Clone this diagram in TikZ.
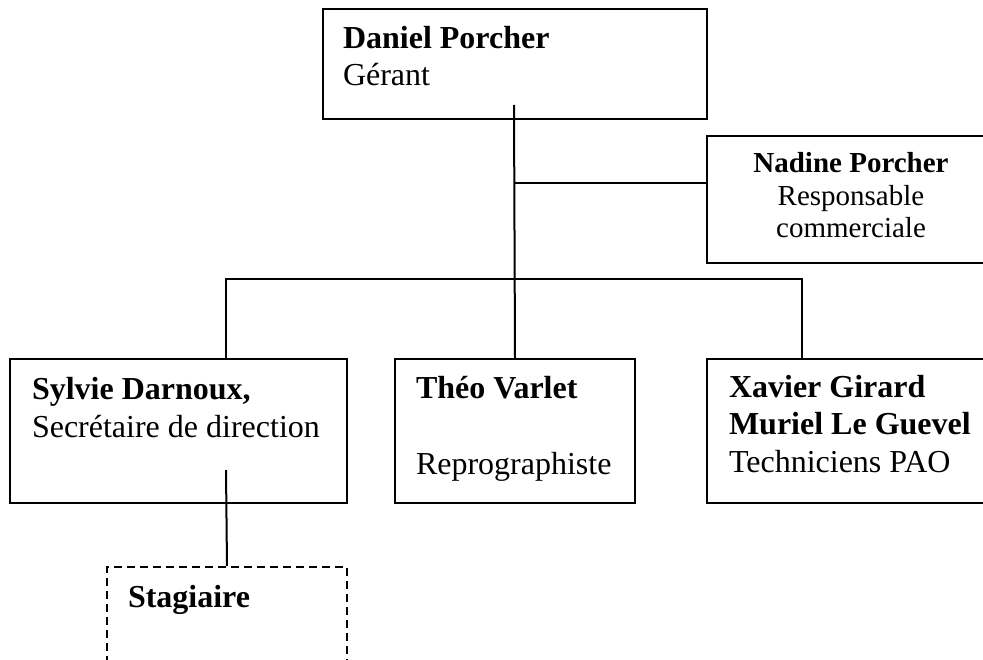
\documentclass[tikz,border=0pt]{standalone}
\usepackage{fontspec}
\setmainfont{Liberation Serif}
\usetikzlibrary{positioning}

\begin{document}
\begin{tikzpicture}[x=1pt, y=-1pt, line width=2pt,
box/.style ={draw, rectangle, anchor=north west, inner sep=0pt},
dashbox/.style ={box, dash pattern=on 8pt off 5pt},
txt/.style ={inner sep=0pt, anchor=base west, align=left, font=\fontsize{32}{37.5}\selectfont},
smalltxt/.style ={inner sep=0pt, anchor=base, align=center, font=\fontsize{29}{32.5}\selectfont}]
\useasboundingbox (0,0) rectangle (983,660);
\clip (0,0) rectangle (983,660);

% boxes
\node (dp) [box, minimum width=384, minimum height=110] at (322,8) {};
\node (np) [box, minimum width=288, minimum height=127] at (706,135) {};
\node (sd) [box, minimum width=337, minimum height=144] at (9,358) {};
\node (tv) [box, minimum width=240, minimum height=144] at (394,358) {};
\node (xg) [box, minimum width=288, minimum height=144] at (706,358) {};
\node (st) [dashbox, minimum width=240, minimum height=120] at (106,566) {};

% texts (base = last line)
\node (dpT) [txt] at ([shift={(20,78)}]dp.north west) {\textbf{Daniel Porcher}\\Gérant};
\node (npT) [smalltxt] at ([shift={(0,103)}]np.north) {\textbf{Nadine Porcher}\\Responsable\\commerciale};
\node (sdT) [txt] at ([shift={(22,79)}]sd.north west) {\textbf{Sylvie Darnoux,}\\Secrétaire de direction};
\node (tvT) [txt] at ([shift={(21,116)}]tv.north west) {\textbf{Théo Varlet}\\[38pt]Reprographiste};
\node (xgT) [txt] at ([shift={(22,114)}]xg.north west) {\textbf{Xavier Girard}\\\textbf{Muriel Le Guevel}\\Techniciens PAO};
\node (stT) [txt] at ([shift={(21,41)}]st.north west) {\textbf{Stagiaire}};

% links
\coordinate (dpStem) at (514,105);
\coordinate (sdStem) at (226,470);
\coordinate (npJoin) at ([yshift=-48pt]np.north west);
\coordinate (sdTop) at ([xshift=217pt]sd.north west);
\coordinate (xgTop) at ([xshift=96pt]xg.north west);
\draw (dpStem) -- (tv.north);
\draw (dpStem |- npJoin) -- (npJoin);
\draw (sdTop) -- ++(0,-79) -| (xgTop);
\draw (sdStem) -- (st.north);
\end{tikzpicture}
\end{document}
